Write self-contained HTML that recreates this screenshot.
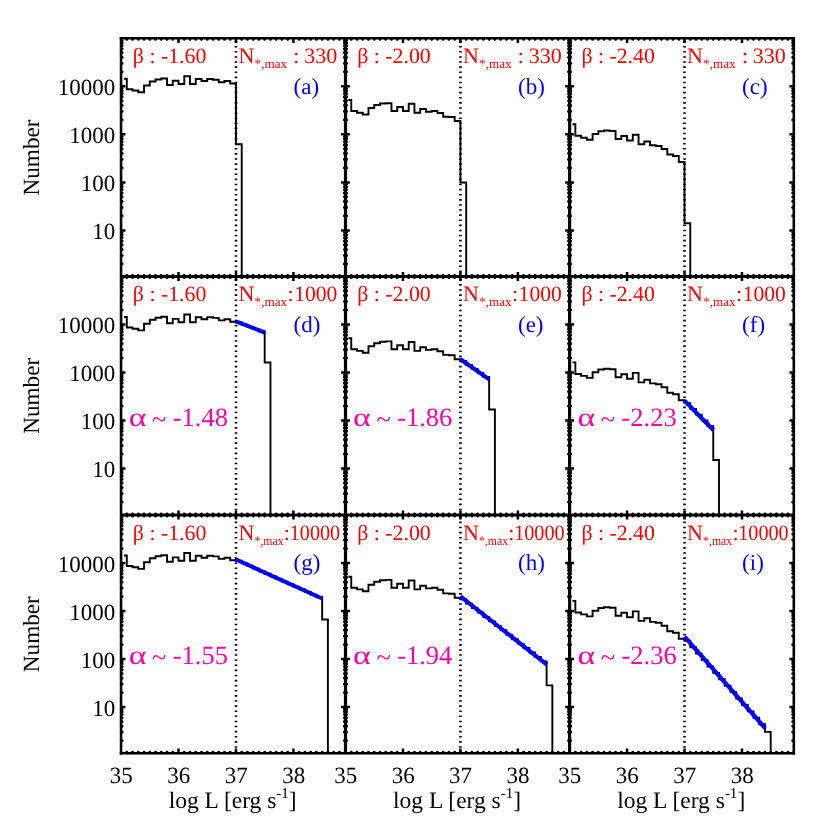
<!DOCTYPE html>
<html><head><meta charset="utf-8"><title>Luminosity functions</title>
<style>html,body{margin:0;padding:0;background:#fff;}body{width:830px;height:830px;position:relative;overflow:hidden;font-family:"Liberation Serif",serif;}</style>
</head><body>
<svg width="830" height="830" viewBox="0 0 830 830" style="position:absolute;left:0;top:0;will-change:transform">
<rect width="830" height="830" fill="#fff"/>
<clipPath id="fc"><rect x="119.85" y="37.1" width="675.15" height="717.3"/></clipPath>
<path clip-path="url(#fc)" d="M126.8 38.3L126.8 39.45 M126.8 275.35L126.8 277.65 M126.8 513.85L126.8 516.15 M126.8 752.05L126.8 753.2 M132.54 38.3L132.54 39.45 M132.54 275.35L132.54 277.65 M132.54 513.85L132.54 516.15 M132.54 752.05L132.54 753.2 M138.29 38.3L138.29 39.45 M138.29 275.35L138.29 277.65 M138.29 513.85L138.29 516.15 M138.29 752.05L138.29 753.2 M144.03 38.3L144.03 39.45 M144.03 275.35L144.03 277.65 M144.03 513.85L144.03 516.15 M144.03 752.05L144.03 753.2 M149.78 38.3L149.78 39.45 M149.78 275.35L149.78 277.65 M149.78 513.85L149.78 516.15 M149.78 752.05L149.78 753.2 M155.53 38.3L155.53 39.45 M155.53 275.35L155.53 277.65 M155.53 513.85L155.53 516.15 M155.53 752.05L155.53 753.2 M161.27 38.3L161.27 39.45 M161.27 275.35L161.27 277.65 M161.27 513.85L161.27 516.15 M161.27 752.05L161.27 753.2 M167.02 38.3L167.02 39.45 M167.02 275.35L167.02 277.65 M167.02 513.85L167.02 516.15 M167.02 752.05L167.02 753.2 M172.76 38.3L172.76 39.45 M172.76 275.35L172.76 277.65 M172.76 513.85L172.76 516.15 M172.76 752.05L172.76 753.2 M184.26 38.3L184.26 39.45 M184.26 275.35L184.26 277.65 M184.26 513.85L184.26 516.15 M184.26 752.05L184.26 753.2 M190 38.3L190 39.45 M190 275.35L190 277.65 M190 513.85L190 516.15 M190 752.05L190 753.2 M195.75 38.3L195.75 39.45 M195.75 275.35L195.75 277.65 M195.75 513.85L195.75 516.15 M195.75 752.05L195.75 753.2 M201.49 38.3L201.49 39.45 M201.49 275.35L201.49 277.65 M201.49 513.85L201.49 516.15 M201.49 752.05L201.49 753.2 M207.24 38.3L207.24 39.45 M207.24 275.35L207.24 277.65 M207.24 513.85L207.24 516.15 M207.24 752.05L207.24 753.2 M212.99 38.3L212.99 39.45 M212.99 275.35L212.99 277.65 M212.99 513.85L212.99 516.15 M212.99 752.05L212.99 753.2 M218.73 38.3L218.73 39.45 M218.73 275.35L218.73 277.65 M218.73 513.85L218.73 516.15 M218.73 752.05L218.73 753.2 M224.48 38.3L224.48 39.45 M224.48 275.35L224.48 277.65 M224.48 513.85L224.48 516.15 M224.48 752.05L224.48 753.2 M230.22 38.3L230.22 39.45 M230.22 275.35L230.22 277.65 M230.22 513.85L230.22 516.15 M230.22 752.05L230.22 753.2 M241.72 38.3L241.72 39.45 M241.72 275.35L241.72 277.65 M241.72 513.85L241.72 516.15 M241.72 752.05L241.72 753.2 M247.46 38.3L247.46 39.45 M247.46 275.35L247.46 277.65 M247.46 513.85L247.46 516.15 M247.46 752.05L247.46 753.2 M253.21 38.3L253.21 39.45 M253.21 275.35L253.21 277.65 M253.21 513.85L253.21 516.15 M253.21 752.05L253.21 753.2 M258.95 38.3L258.95 39.45 M258.95 275.35L258.95 277.65 M258.95 513.85L258.95 516.15 M258.95 752.05L258.95 753.2 M264.7 38.3L264.7 39.45 M264.7 275.35L264.7 277.65 M264.7 513.85L264.7 516.15 M264.7 752.05L264.7 753.2 M270.45 38.3L270.45 39.45 M270.45 275.35L270.45 277.65 M270.45 513.85L270.45 516.15 M270.45 752.05L270.45 753.2 M276.19 38.3L276.19 39.45 M276.19 275.35L276.19 277.65 M276.19 513.85L276.19 516.15 M276.19 752.05L276.19 753.2 M281.94 38.3L281.94 39.45 M281.94 275.35L281.94 277.65 M281.94 513.85L281.94 516.15 M281.94 752.05L281.94 753.2 M287.68 38.3L287.68 39.45 M287.68 275.35L287.68 277.65 M287.68 513.85L287.68 516.15 M287.68 752.05L287.68 753.2 M299.18 38.3L299.18 39.45 M299.18 275.35L299.18 277.65 M299.18 513.85L299.18 516.15 M299.18 752.05L299.18 753.2 M304.92 38.3L304.92 39.45 M304.92 275.35L304.92 277.65 M304.92 513.85L304.92 516.15 M304.92 752.05L304.92 753.2 M310.67 38.3L310.67 39.45 M310.67 275.35L310.67 277.65 M310.67 513.85L310.67 516.15 M310.67 752.05L310.67 753.2 M316.41 38.3L316.41 39.45 M316.41 275.35L316.41 277.65 M316.41 513.85L316.41 516.15 M316.41 752.05L316.41 753.2 M322.16 38.3L322.16 39.45 M322.16 275.35L322.16 277.65 M322.16 513.85L322.16 516.15 M322.16 752.05L322.16 753.2 M327.91 38.3L327.91 39.45 M327.91 275.35L327.91 277.65 M327.91 513.85L327.91 516.15 M327.91 752.05L327.91 753.2 M333.65 38.3L333.65 39.45 M333.65 275.35L333.65 277.65 M333.65 513.85L333.65 516.15 M333.65 752.05L333.65 753.2 M339.4 38.3L339.4 39.45 M339.4 275.35L339.4 277.65 M339.4 513.85L339.4 516.15 M339.4 752.05L339.4 753.2 M345.14 38.3L345.14 39.45 M345.14 275.35L345.14 277.65 M345.14 513.85L345.14 516.15 M345.14 752.05L345.14 753.2 M351.25 38.3L351.25 39.45 M351.25 275.35L351.25 277.65 M351.25 513.85L351.25 516.15 M351.25 752.05L351.25 753.2 M356.99 38.3L356.99 39.45 M356.99 275.35L356.99 277.65 M356.99 513.85L356.99 516.15 M356.99 752.05L356.99 753.2 M362.74 38.3L362.74 39.45 M362.74 275.35L362.74 277.65 M362.74 513.85L362.74 516.15 M362.74 752.05L362.74 753.2 M368.48 38.3L368.48 39.45 M368.48 275.35L368.48 277.65 M368.48 513.85L368.48 516.15 M368.48 752.05L368.48 753.2 M374.23 38.3L374.23 39.45 M374.23 275.35L374.23 277.65 M374.23 513.85L374.23 516.15 M374.23 752.05L374.23 753.2 M379.98 38.3L379.98 39.45 M379.98 275.35L379.98 277.65 M379.98 513.85L379.98 516.15 M379.98 752.05L379.98 753.2 M385.72 38.3L385.72 39.45 M385.72 275.35L385.72 277.65 M385.72 513.85L385.72 516.15 M385.72 752.05L385.72 753.2 M391.47 38.3L391.47 39.45 M391.47 275.35L391.47 277.65 M391.47 513.85L391.47 516.15 M391.47 752.05L391.47 753.2 M397.21 38.3L397.21 39.45 M397.21 275.35L397.21 277.65 M397.21 513.85L397.21 516.15 M397.21 752.05L397.21 753.2 M408.71 38.3L408.71 39.45 M408.71 275.35L408.71 277.65 M408.71 513.85L408.71 516.15 M408.71 752.05L408.71 753.2 M414.45 38.3L414.45 39.45 M414.45 275.35L414.45 277.65 M414.45 513.85L414.45 516.15 M414.45 752.05L414.45 753.2 M420.2 38.3L420.2 39.45 M420.2 275.35L420.2 277.65 M420.2 513.85L420.2 516.15 M420.2 752.05L420.2 753.2 M425.94 38.3L425.94 39.45 M425.94 275.35L425.94 277.65 M425.94 513.85L425.94 516.15 M425.94 752.05L425.94 753.2 M431.69 38.3L431.69 39.45 M431.69 275.35L431.69 277.65 M431.69 513.85L431.69 516.15 M431.69 752.05L431.69 753.2 M437.44 38.3L437.44 39.45 M437.44 275.35L437.44 277.65 M437.44 513.85L437.44 516.15 M437.44 752.05L437.44 753.2 M443.18 38.3L443.18 39.45 M443.18 275.35L443.18 277.65 M443.18 513.85L443.18 516.15 M443.18 752.05L443.18 753.2 M448.93 38.3L448.93 39.45 M448.93 275.35L448.93 277.65 M448.93 513.85L448.93 516.15 M448.93 752.05L448.93 753.2 M454.67 38.3L454.67 39.45 M454.67 275.35L454.67 277.65 M454.67 513.85L454.67 516.15 M454.67 752.05L454.67 753.2 M466.17 38.3L466.17 39.45 M466.17 275.35L466.17 277.65 M466.17 513.85L466.17 516.15 M466.17 752.05L466.17 753.2 M471.91 38.3L471.91 39.45 M471.91 275.35L471.91 277.65 M471.91 513.85L471.91 516.15 M471.91 752.05L471.91 753.2 M477.66 38.3L477.66 39.45 M477.66 275.35L477.66 277.65 M477.66 513.85L477.66 516.15 M477.66 752.05L477.66 753.2 M483.4 38.3L483.4 39.45 M483.4 275.35L483.4 277.65 M483.4 513.85L483.4 516.15 M483.4 752.05L483.4 753.2 M489.15 38.3L489.15 39.45 M489.15 275.35L489.15 277.65 M489.15 513.85L489.15 516.15 M489.15 752.05L489.15 753.2 M494.9 38.3L494.9 39.45 M494.9 275.35L494.9 277.65 M494.9 513.85L494.9 516.15 M494.9 752.05L494.9 753.2 M500.64 38.3L500.64 39.45 M500.64 275.35L500.64 277.65 M500.64 513.85L500.64 516.15 M500.64 752.05L500.64 753.2 M506.39 38.3L506.39 39.45 M506.39 275.35L506.39 277.65 M506.39 513.85L506.39 516.15 M506.39 752.05L506.39 753.2 M512.13 38.3L512.13 39.45 M512.13 275.35L512.13 277.65 M512.13 513.85L512.13 516.15 M512.13 752.05L512.13 753.2 M523.63 38.3L523.63 39.45 M523.63 275.35L523.63 277.65 M523.63 513.85L523.63 516.15 M523.63 752.05L523.63 753.2 M529.37 38.3L529.37 39.45 M529.37 275.35L529.37 277.65 M529.37 513.85L529.37 516.15 M529.37 752.05L529.37 753.2 M535.12 38.3L535.12 39.45 M535.12 275.35L535.12 277.65 M535.12 513.85L535.12 516.15 M535.12 752.05L535.12 753.2 M540.86 38.3L540.86 39.45 M540.86 275.35L540.86 277.65 M540.86 513.85L540.86 516.15 M540.86 752.05L540.86 753.2 M546.61 38.3L546.61 39.45 M546.61 275.35L546.61 277.65 M546.61 513.85L546.61 516.15 M546.61 752.05L546.61 753.2 M552.36 38.3L552.36 39.45 M552.36 275.35L552.36 277.65 M552.36 513.85L552.36 516.15 M552.36 752.05L552.36 753.2 M558.1 38.3L558.1 39.45 M558.1 275.35L558.1 277.65 M558.1 513.85L558.1 516.15 M558.1 752.05L558.1 753.2 M563.85 38.3L563.85 39.45 M563.85 275.35L563.85 277.65 M563.85 513.85L563.85 516.15 M563.85 752.05L563.85 753.2 M569.59 38.3L569.59 39.45 M569.59 275.35L569.59 277.65 M569.59 513.85L569.59 516.15 M569.59 752.05L569.59 753.2 M575.35 38.3L575.35 39.45 M575.35 275.35L575.35 277.65 M575.35 513.85L575.35 516.15 M575.35 752.05L575.35 753.2 M581.09 38.3L581.09 39.45 M581.09 275.35L581.09 277.65 M581.09 513.85L581.09 516.15 M581.09 752.05L581.09 753.2 M586.84 38.3L586.84 39.45 M586.84 275.35L586.84 277.65 M586.84 513.85L586.84 516.15 M586.84 752.05L586.84 753.2 M592.58 38.3L592.58 39.45 M592.58 275.35L592.58 277.65 M592.58 513.85L592.58 516.15 M592.58 752.05L592.58 753.2 M598.33 38.3L598.33 39.45 M598.33 275.35L598.33 277.65 M598.33 513.85L598.33 516.15 M598.33 752.05L598.33 753.2 M604.08 38.3L604.08 39.45 M604.08 275.35L604.08 277.65 M604.08 513.85L604.08 516.15 M604.08 752.05L604.08 753.2 M609.82 38.3L609.82 39.45 M609.82 275.35L609.82 277.65 M609.82 513.85L609.82 516.15 M609.82 752.05L609.82 753.2 M615.57 38.3L615.57 39.45 M615.57 275.35L615.57 277.65 M615.57 513.85L615.57 516.15 M615.57 752.05L615.57 753.2 M621.31 38.3L621.31 39.45 M621.31 275.35L621.31 277.65 M621.31 513.85L621.31 516.15 M621.31 752.05L621.31 753.2 M632.81 38.3L632.81 39.45 M632.81 275.35L632.81 277.65 M632.81 513.85L632.81 516.15 M632.81 752.05L632.81 753.2 M638.55 38.3L638.55 39.45 M638.55 275.35L638.55 277.65 M638.55 513.85L638.55 516.15 M638.55 752.05L638.55 753.2 M644.3 38.3L644.3 39.45 M644.3 275.35L644.3 277.65 M644.3 513.85L644.3 516.15 M644.3 752.05L644.3 753.2 M650.04 38.3L650.04 39.45 M650.04 275.35L650.04 277.65 M650.04 513.85L650.04 516.15 M650.04 752.05L650.04 753.2 M655.79 38.3L655.79 39.45 M655.79 275.35L655.79 277.65 M655.79 513.85L655.79 516.15 M655.79 752.05L655.79 753.2 M661.54 38.3L661.54 39.45 M661.54 275.35L661.54 277.65 M661.54 513.85L661.54 516.15 M661.54 752.05L661.54 753.2 M667.28 38.3L667.28 39.45 M667.28 275.35L667.28 277.65 M667.28 513.85L667.28 516.15 M667.28 752.05L667.28 753.2 M673.03 38.3L673.03 39.45 M673.03 275.35L673.03 277.65 M673.03 513.85L673.03 516.15 M673.03 752.05L673.03 753.2 M678.77 38.3L678.77 39.45 M678.77 275.35L678.77 277.65 M678.77 513.85L678.77 516.15 M678.77 752.05L678.77 753.2 M690.27 38.3L690.27 39.45 M690.27 275.35L690.27 277.65 M690.27 513.85L690.27 516.15 M690.27 752.05L690.27 753.2 M696.01 38.3L696.01 39.45 M696.01 275.35L696.01 277.65 M696.01 513.85L696.01 516.15 M696.01 752.05L696.01 753.2 M701.76 38.3L701.76 39.45 M701.76 275.35L701.76 277.65 M701.76 513.85L701.76 516.15 M701.76 752.05L701.76 753.2 M707.5 38.3L707.5 39.45 M707.5 275.35L707.5 277.65 M707.5 513.85L707.5 516.15 M707.5 752.05L707.5 753.2 M713.25 38.3L713.25 39.45 M713.25 275.35L713.25 277.65 M713.25 513.85L713.25 516.15 M713.25 752.05L713.25 753.2 M719 38.3L719 39.45 M719 275.35L719 277.65 M719 513.85L719 516.15 M719 752.05L719 753.2 M724.74 38.3L724.74 39.45 M724.74 275.35L724.74 277.65 M724.74 513.85L724.74 516.15 M724.74 752.05L724.74 753.2 M730.49 38.3L730.49 39.45 M730.49 275.35L730.49 277.65 M730.49 513.85L730.49 516.15 M730.49 752.05L730.49 753.2 M736.23 38.3L736.23 39.45 M736.23 275.35L736.23 277.65 M736.23 513.85L736.23 516.15 M736.23 752.05L736.23 753.2 M747.73 38.3L747.73 39.45 M747.73 275.35L747.73 277.65 M747.73 513.85L747.73 516.15 M747.73 752.05L747.73 753.2 M753.47 38.3L753.47 39.45 M753.47 275.35L753.47 277.65 M753.47 513.85L753.47 516.15 M753.47 752.05L753.47 753.2 M759.22 38.3L759.22 39.45 M759.22 275.35L759.22 277.65 M759.22 513.85L759.22 516.15 M759.22 752.05L759.22 753.2 M764.96 38.3L764.96 39.45 M764.96 275.35L764.96 277.65 M764.96 513.85L764.96 516.15 M764.96 752.05L764.96 753.2 M770.71 38.3L770.71 39.45 M770.71 275.35L770.71 277.65 M770.71 513.85L770.71 516.15 M770.71 752.05L770.71 753.2 M776.46 38.3L776.46 39.45 M776.46 275.35L776.46 277.65 M776.46 513.85L776.46 516.15 M776.46 752.05L776.46 753.2 M782.2 38.3L782.2 39.45 M782.2 275.35L782.2 277.65 M782.2 513.85L782.2 516.15 M782.2 752.05L782.2 753.2 M787.95 38.3L787.95 39.45 M787.95 275.35L787.95 277.65 M787.95 513.85L787.95 516.15 M787.95 752.05L787.95 753.2 M793.69 38.3L793.69 39.45 M793.69 275.35L793.69 277.65 M793.69 513.85L793.69 516.15 M793.69 752.05L793.69 753.2 M121.05 263.99L122.2 263.99 M344.35 263.99L346.65 263.99 M568.45 263.99L570.75 263.99 M792.65 263.99L793.8 263.99 M121.05 255.53L122.2 255.53 M344.35 255.53L346.65 255.53 M568.45 255.53L570.75 255.53 M792.65 255.53L793.8 255.53 M121.05 249.53L122.2 249.53 M344.35 249.53L346.65 249.53 M568.45 249.53L570.75 249.53 M792.65 249.53L793.8 249.53 M121.05 244.88L122.2 244.88 M344.35 244.88L346.65 244.88 M568.45 244.88L570.75 244.88 M792.65 244.88L793.8 244.88 M121.05 241.08L122.2 241.08 M344.35 241.08L346.65 241.08 M568.45 241.08L570.75 241.08 M792.65 241.08L793.8 241.08 M121.05 237.86L122.2 237.86 M344.35 237.86L346.65 237.86 M568.45 237.86L570.75 237.86 M792.65 237.86L793.8 237.86 M121.05 235.07L122.2 235.07 M344.35 235.07L346.65 235.07 M568.45 235.07L570.75 235.07 M792.65 235.07L793.8 235.07 M121.05 232.62L122.2 232.62 M344.35 232.62L346.65 232.62 M568.45 232.62L570.75 232.62 M792.65 232.62L793.8 232.62 M121.05 215.96L122.2 215.96 M344.35 215.96L346.65 215.96 M568.45 215.96L570.75 215.96 M792.65 215.96L793.8 215.96 M121.05 207.5L122.2 207.5 M344.35 207.5L346.65 207.5 M568.45 207.5L570.75 207.5 M792.65 207.5L793.8 207.5 M121.05 201.5L122.2 201.5 M344.35 201.5L346.65 201.5 M568.45 201.5L570.75 201.5 M792.65 201.5L793.8 201.5 M121.05 196.85L122.2 196.85 M344.35 196.85L346.65 196.85 M568.45 196.85L570.75 196.85 M792.65 196.85L793.8 196.85 M121.05 193.05L122.2 193.05 M344.35 193.05L346.65 193.05 M568.45 193.05L570.75 193.05 M792.65 193.05L793.8 193.05 M121.05 189.83L122.2 189.83 M344.35 189.83L346.65 189.83 M568.45 189.83L570.75 189.83 M792.65 189.83L793.8 189.83 M121.05 187.04L122.2 187.04 M344.35 187.04L346.65 187.04 M568.45 187.04L570.75 187.04 M792.65 187.04L793.8 187.04 M121.05 184.59L122.2 184.59 M344.35 184.59L346.65 184.59 M568.45 184.59L570.75 184.59 M792.65 184.59L793.8 184.59 M121.05 167.93L122.2 167.93 M344.35 167.93L346.65 167.93 M568.45 167.93L570.75 167.93 M792.65 167.93L793.8 167.93 M121.05 159.47L122.2 159.47 M344.35 159.47L346.65 159.47 M568.45 159.47L570.75 159.47 M792.65 159.47L793.8 159.47 M121.05 153.47L122.2 153.47 M344.35 153.47L346.65 153.47 M568.45 153.47L570.75 153.47 M792.65 153.47L793.8 153.47 M121.05 148.82L122.2 148.82 M344.35 148.82L346.65 148.82 M568.45 148.82L570.75 148.82 M792.65 148.82L793.8 148.82 M121.05 145.02L122.2 145.02 M344.35 145.02L346.65 145.02 M568.45 145.02L570.75 145.02 M792.65 145.02L793.8 145.02 M121.05 141.8L122.2 141.8 M344.35 141.8L346.65 141.8 M568.45 141.8L570.75 141.8 M792.65 141.8L793.8 141.8 M121.05 139.01L122.2 139.01 M344.35 139.01L346.65 139.01 M568.45 139.01L570.75 139.01 M792.65 139.01L793.8 139.01 M121.05 136.56L122.2 136.56 M344.35 136.56L346.65 136.56 M568.45 136.56L570.75 136.56 M792.65 136.56L793.8 136.56 M121.05 119.9L122.2 119.9 M344.35 119.9L346.65 119.9 M568.45 119.9L570.75 119.9 M792.65 119.9L793.8 119.9 M121.05 111.44L122.2 111.44 M344.35 111.44L346.65 111.44 M568.45 111.44L570.75 111.44 M792.65 111.44L793.8 111.44 M121.05 105.44L122.2 105.44 M344.35 105.44L346.65 105.44 M568.45 105.44L570.75 105.44 M792.65 105.44L793.8 105.44 M121.05 100.79L122.2 100.79 M344.35 100.79L346.65 100.79 M568.45 100.79L570.75 100.79 M792.65 100.79L793.8 100.79 M121.05 96.99L122.2 96.99 M344.35 96.99L346.65 96.99 M568.45 96.99L570.75 96.99 M792.65 96.99L793.8 96.99 M121.05 93.77L122.2 93.77 M344.35 93.77L346.65 93.77 M568.45 93.77L570.75 93.77 M792.65 93.77L793.8 93.77 M121.05 90.98L122.2 90.98 M344.35 90.98L346.65 90.98 M568.45 90.98L570.75 90.98 M792.65 90.98L793.8 90.98 M121.05 88.53L122.2 88.53 M344.35 88.53L346.65 88.53 M568.45 88.53L570.75 88.53 M792.65 88.53L793.8 88.53 M121.05 71.87L122.2 71.87 M344.35 71.87L346.65 71.87 M568.45 71.87L570.75 71.87 M792.65 71.87L793.8 71.87 M121.05 63.41L122.2 63.41 M344.35 63.41L346.65 63.41 M568.45 63.41L570.75 63.41 M792.65 63.41L793.8 63.41 M121.05 57.41L122.2 57.41 M344.35 57.41L346.65 57.41 M568.45 57.41L570.75 57.41 M792.65 57.41L793.8 57.41 M121.05 52.76L122.2 52.76 M344.35 52.76L346.65 52.76 M568.45 52.76L570.75 52.76 M792.65 52.76L793.8 52.76 M121.05 48.96L122.2 48.96 M344.35 48.96L346.65 48.96 M568.45 48.96L570.75 48.96 M792.65 48.96L793.8 48.96 M121.05 45.74L122.2 45.74 M344.35 45.74L346.65 45.74 M568.45 45.74L570.75 45.74 M792.65 45.74L793.8 45.74 M121.05 42.95L122.2 42.95 M344.35 42.95L346.65 42.95 M568.45 42.95L570.75 42.95 M792.65 42.95L793.8 42.95 M121.05 40.5L122.2 40.5 M344.35 40.5L346.65 40.5 M568.45 40.5L570.75 40.5 M792.65 40.5L793.8 40.5 M121.05 502.19L122.2 502.19 M344.35 502.19L346.65 502.19 M568.45 502.19L570.75 502.19 M792.65 502.19L793.8 502.19 M121.05 493.73L122.2 493.73 M344.35 493.73L346.65 493.73 M568.45 493.73L570.75 493.73 M792.65 493.73L793.8 493.73 M121.05 487.73L122.2 487.73 M344.35 487.73L346.65 487.73 M568.45 487.73L570.75 487.73 M792.65 487.73L793.8 487.73 M121.05 483.08L122.2 483.08 M344.35 483.08L346.65 483.08 M568.45 483.08L570.75 483.08 M792.65 483.08L793.8 483.08 M121.05 479.28L122.2 479.28 M344.35 479.28L346.65 479.28 M568.45 479.28L570.75 479.28 M792.65 479.28L793.8 479.28 M121.05 476.06L122.2 476.06 M344.35 476.06L346.65 476.06 M568.45 476.06L570.75 476.06 M792.65 476.06L793.8 476.06 M121.05 473.27L122.2 473.27 M344.35 473.27L346.65 473.27 M568.45 473.27L570.75 473.27 M792.65 473.27L793.8 473.27 M121.05 470.82L122.2 470.82 M344.35 470.82L346.65 470.82 M568.45 470.82L570.75 470.82 M792.65 470.82L793.8 470.82 M121.05 454.16L122.2 454.16 M344.35 454.16L346.65 454.16 M568.45 454.16L570.75 454.16 M792.65 454.16L793.8 454.16 M121.05 445.7L122.2 445.7 M344.35 445.7L346.65 445.7 M568.45 445.7L570.75 445.7 M792.65 445.7L793.8 445.7 M121.05 439.7L122.2 439.7 M344.35 439.7L346.65 439.7 M568.45 439.7L570.75 439.7 M792.65 439.7L793.8 439.7 M121.05 435.05L122.2 435.05 M344.35 435.05L346.65 435.05 M568.45 435.05L570.75 435.05 M792.65 435.05L793.8 435.05 M121.05 431.25L122.2 431.25 M344.35 431.25L346.65 431.25 M568.45 431.25L570.75 431.25 M792.65 431.25L793.8 431.25 M121.05 428.03L122.2 428.03 M344.35 428.03L346.65 428.03 M568.45 428.03L570.75 428.03 M792.65 428.03L793.8 428.03 M121.05 425.24L122.2 425.24 M344.35 425.24L346.65 425.24 M568.45 425.24L570.75 425.24 M792.65 425.24L793.8 425.24 M121.05 422.79L122.2 422.79 M344.35 422.79L346.65 422.79 M568.45 422.79L570.75 422.79 M792.65 422.79L793.8 422.79 M121.05 406.13L122.2 406.13 M344.35 406.13L346.65 406.13 M568.45 406.13L570.75 406.13 M792.65 406.13L793.8 406.13 M121.05 397.67L122.2 397.67 M344.35 397.67L346.65 397.67 M568.45 397.67L570.75 397.67 M792.65 397.67L793.8 397.67 M121.05 391.67L122.2 391.67 M344.35 391.67L346.65 391.67 M568.45 391.67L570.75 391.67 M792.65 391.67L793.8 391.67 M121.05 387.02L122.2 387.02 M344.35 387.02L346.65 387.02 M568.45 387.02L570.75 387.02 M792.65 387.02L793.8 387.02 M121.05 383.22L122.2 383.22 M344.35 383.22L346.65 383.22 M568.45 383.22L570.75 383.22 M792.65 383.22L793.8 383.22 M121.05 380L122.2 380 M344.35 380L346.65 380 M568.45 380L570.75 380 M792.65 380L793.8 380 M121.05 377.21L122.2 377.21 M344.35 377.21L346.65 377.21 M568.45 377.21L570.75 377.21 M792.65 377.21L793.8 377.21 M121.05 374.76L122.2 374.76 M344.35 374.76L346.65 374.76 M568.45 374.76L570.75 374.76 M792.65 374.76L793.8 374.76 M121.05 358.1L122.2 358.1 M344.35 358.1L346.65 358.1 M568.45 358.1L570.75 358.1 M792.65 358.1L793.8 358.1 M121.05 349.64L122.2 349.64 M344.35 349.64L346.65 349.64 M568.45 349.64L570.75 349.64 M792.65 349.64L793.8 349.64 M121.05 343.64L122.2 343.64 M344.35 343.64L346.65 343.64 M568.45 343.64L570.75 343.64 M792.65 343.64L793.8 343.64 M121.05 338.99L122.2 338.99 M344.35 338.99L346.65 338.99 M568.45 338.99L570.75 338.99 M792.65 338.99L793.8 338.99 M121.05 335.19L122.2 335.19 M344.35 335.19L346.65 335.19 M568.45 335.19L570.75 335.19 M792.65 335.19L793.8 335.19 M121.05 331.97L122.2 331.97 M344.35 331.97L346.65 331.97 M568.45 331.97L570.75 331.97 M792.65 331.97L793.8 331.97 M121.05 329.18L122.2 329.18 M344.35 329.18L346.65 329.18 M568.45 329.18L570.75 329.18 M792.65 329.18L793.8 329.18 M121.05 326.73L122.2 326.73 M344.35 326.73L346.65 326.73 M568.45 326.73L570.75 326.73 M792.65 326.73L793.8 326.73 M121.05 310.07L122.2 310.07 M344.35 310.07L346.65 310.07 M568.45 310.07L570.75 310.07 M792.65 310.07L793.8 310.07 M121.05 301.61L122.2 301.61 M344.35 301.61L346.65 301.61 M568.45 301.61L570.75 301.61 M792.65 301.61L793.8 301.61 M121.05 295.61L122.2 295.61 M344.35 295.61L346.65 295.61 M568.45 295.61L570.75 295.61 M792.65 295.61L793.8 295.61 M121.05 290.96L122.2 290.96 M344.35 290.96L346.65 290.96 M568.45 290.96L570.75 290.96 M792.65 290.96L793.8 290.96 M121.05 287.16L122.2 287.16 M344.35 287.16L346.65 287.16 M568.45 287.16L570.75 287.16 M792.65 287.16L793.8 287.16 M121.05 283.94L122.2 283.94 M344.35 283.94L346.65 283.94 M568.45 283.94L570.75 283.94 M792.65 283.94L793.8 283.94 M121.05 281.15L122.2 281.15 M344.35 281.15L346.65 281.15 M568.45 281.15L570.75 281.15 M792.65 281.15L793.8 281.15 M121.05 278.7L122.2 278.7 M344.35 278.7L346.65 278.7 M568.45 278.7L570.75 278.7 M792.65 278.7L793.8 278.7 M121.05 740.69L122.2 740.69 M344.35 740.69L346.65 740.69 M568.45 740.69L570.75 740.69 M792.65 740.69L793.8 740.69 M121.05 732.23L122.2 732.23 M344.35 732.23L346.65 732.23 M568.45 732.23L570.75 732.23 M792.65 732.23L793.8 732.23 M121.05 726.23L122.2 726.23 M344.35 726.23L346.65 726.23 M568.45 726.23L570.75 726.23 M792.65 726.23L793.8 726.23 M121.05 721.58L122.2 721.58 M344.35 721.58L346.65 721.58 M568.45 721.58L570.75 721.58 M792.65 721.58L793.8 721.58 M121.05 717.78L122.2 717.78 M344.35 717.78L346.65 717.78 M568.45 717.78L570.75 717.78 M792.65 717.78L793.8 717.78 M121.05 714.56L122.2 714.56 M344.35 714.56L346.65 714.56 M568.45 714.56L570.75 714.56 M792.65 714.56L793.8 714.56 M121.05 711.77L122.2 711.77 M344.35 711.77L346.65 711.77 M568.45 711.77L570.75 711.77 M792.65 711.77L793.8 711.77 M121.05 709.32L122.2 709.32 M344.35 709.32L346.65 709.32 M568.45 709.32L570.75 709.32 M792.65 709.32L793.8 709.32 M121.05 692.66L122.2 692.66 M344.35 692.66L346.65 692.66 M568.45 692.66L570.75 692.66 M792.65 692.66L793.8 692.66 M121.05 684.2L122.2 684.2 M344.35 684.2L346.65 684.2 M568.45 684.2L570.75 684.2 M792.65 684.2L793.8 684.2 M121.05 678.2L122.2 678.2 M344.35 678.2L346.65 678.2 M568.45 678.2L570.75 678.2 M792.65 678.2L793.8 678.2 M121.05 673.55L122.2 673.55 M344.35 673.55L346.65 673.55 M568.45 673.55L570.75 673.55 M792.65 673.55L793.8 673.55 M121.05 669.75L122.2 669.75 M344.35 669.75L346.65 669.75 M568.45 669.75L570.75 669.75 M792.65 669.75L793.8 669.75 M121.05 666.53L122.2 666.53 M344.35 666.53L346.65 666.53 M568.45 666.53L570.75 666.53 M792.65 666.53L793.8 666.53 M121.05 663.74L122.2 663.74 M344.35 663.74L346.65 663.74 M568.45 663.74L570.75 663.74 M792.65 663.74L793.8 663.74 M121.05 661.29L122.2 661.29 M344.35 661.29L346.65 661.29 M568.45 661.29L570.75 661.29 M792.65 661.29L793.8 661.29 M121.05 644.63L122.2 644.63 M344.35 644.63L346.65 644.63 M568.45 644.63L570.75 644.63 M792.65 644.63L793.8 644.63 M121.05 636.17L122.2 636.17 M344.35 636.17L346.65 636.17 M568.45 636.17L570.75 636.17 M792.65 636.17L793.8 636.17 M121.05 630.17L122.2 630.17 M344.35 630.17L346.65 630.17 M568.45 630.17L570.75 630.17 M792.65 630.17L793.8 630.17 M121.05 625.52L122.2 625.52 M344.35 625.52L346.65 625.52 M568.45 625.52L570.75 625.52 M792.65 625.52L793.8 625.52 M121.05 621.72L122.2 621.72 M344.35 621.72L346.65 621.72 M568.45 621.72L570.75 621.72 M792.65 621.72L793.8 621.72 M121.05 618.5L122.2 618.5 M344.35 618.5L346.65 618.5 M568.45 618.5L570.75 618.5 M792.65 618.5L793.8 618.5 M121.05 615.71L122.2 615.71 M344.35 615.71L346.65 615.71 M568.45 615.71L570.75 615.71 M792.65 615.71L793.8 615.71 M121.05 613.26L122.2 613.26 M344.35 613.26L346.65 613.26 M568.45 613.26L570.75 613.26 M792.65 613.26L793.8 613.26 M121.05 596.6L122.2 596.6 M344.35 596.6L346.65 596.6 M568.45 596.6L570.75 596.6 M792.65 596.6L793.8 596.6 M121.05 588.14L122.2 588.14 M344.35 588.14L346.65 588.14 M568.45 588.14L570.75 588.14 M792.65 588.14L793.8 588.14 M121.05 582.14L122.2 582.14 M344.35 582.14L346.65 582.14 M568.45 582.14L570.75 582.14 M792.65 582.14L793.8 582.14 M121.05 577.49L122.2 577.49 M344.35 577.49L346.65 577.49 M568.45 577.49L570.75 577.49 M792.65 577.49L793.8 577.49 M121.05 573.69L122.2 573.69 M344.35 573.69L346.65 573.69 M568.45 573.69L570.75 573.69 M792.65 573.69L793.8 573.69 M121.05 570.47L122.2 570.47 M344.35 570.47L346.65 570.47 M568.45 570.47L570.75 570.47 M792.65 570.47L793.8 570.47 M121.05 567.68L122.2 567.68 M344.35 567.68L346.65 567.68 M568.45 567.68L570.75 567.68 M792.65 567.68L793.8 567.68 M121.05 565.23L122.2 565.23 M344.35 565.23L346.65 565.23 M568.45 565.23L570.75 565.23 M792.65 565.23L793.8 565.23 M121.05 548.57L122.2 548.57 M344.35 548.57L346.65 548.57 M568.45 548.57L570.75 548.57 M792.65 548.57L793.8 548.57 M121.05 540.11L122.2 540.11 M344.35 540.11L346.65 540.11 M568.45 540.11L570.75 540.11 M792.65 540.11L793.8 540.11 M121.05 534.11L122.2 534.11 M344.35 534.11L346.65 534.11 M568.45 534.11L570.75 534.11 M792.65 534.11L793.8 534.11 M121.05 529.46L122.2 529.46 M344.35 529.46L346.65 529.46 M568.45 529.46L570.75 529.46 M792.65 529.46L793.8 529.46 M121.05 525.66L122.2 525.66 M344.35 525.66L346.65 525.66 M568.45 525.66L570.75 525.66 M792.65 525.66L793.8 525.66 M121.05 522.44L122.2 522.44 M344.35 522.44L346.65 522.44 M568.45 522.44L570.75 522.44 M792.65 522.44L793.8 522.44 M121.05 519.65L122.2 519.65 M344.35 519.65L346.65 519.65 M568.45 519.65L570.75 519.65 M792.65 519.65L793.8 519.65 M121.05 517.2L122.2 517.2 M344.35 517.2L346.65 517.2 M568.45 517.2L570.75 517.2 M792.65 517.2L793.8 517.2" stroke="#000" stroke-width="2.8" fill="none" stroke-linecap="round"/>
<path d="M178.51 38.3L178.51 42.9 M178.51 271.9L178.51 281.1 M178.51 510.4L178.51 519.6 M178.51 748.6L178.51 753.2 M235.97 38.3L235.97 42.9 M235.97 271.9L235.97 281.1 M235.97 510.4L235.97 519.6 M235.97 748.6L235.97 753.2 M293.43 38.3L293.43 42.9 M293.43 271.9L293.43 281.1 M293.43 510.4L293.43 519.6 M293.43 748.6L293.43 753.2 M402.96 38.3L402.96 42.9 M402.96 271.9L402.96 281.1 M402.96 510.4L402.96 519.6 M402.96 748.6L402.96 753.2 M460.42 38.3L460.42 42.9 M460.42 271.9L460.42 281.1 M460.42 510.4L460.42 519.6 M460.42 748.6L460.42 753.2 M517.88 38.3L517.88 42.9 M517.88 271.9L517.88 281.1 M517.88 510.4L517.88 519.6 M517.88 748.6L517.88 753.2 M627.06 38.3L627.06 42.9 M627.06 271.9L627.06 281.1 M627.06 510.4L627.06 519.6 M627.06 748.6L627.06 753.2 M684.52 38.3L684.52 42.9 M684.52 271.9L684.52 281.1 M684.52 510.4L684.52 519.6 M684.52 748.6L684.52 753.2 M741.98 38.3L741.98 42.9 M741.98 271.9L741.98 281.1 M741.98 510.4L741.98 519.6 M741.98 748.6L741.98 753.2 M121.05 230.42L125.45 230.42 M341.1 230.42L349.9 230.42 M565.2 230.42L574 230.42 M789.4 230.42L793.8 230.42 M121.05 182.39L125.45 182.39 M341.1 182.39L349.9 182.39 M565.2 182.39L574 182.39 M789.4 182.39L793.8 182.39 M121.05 134.36L125.45 134.36 M341.1 134.36L349.9 134.36 M565.2 134.36L574 134.36 M789.4 134.36L793.8 134.36 M121.05 86.33L125.45 86.33 M341.1 86.33L349.9 86.33 M565.2 86.33L574 86.33 M789.4 86.33L793.8 86.33 M121.05 468.62L125.45 468.62 M341.1 468.62L349.9 468.62 M565.2 468.62L574 468.62 M789.4 468.62L793.8 468.62 M121.05 420.59L125.45 420.59 M341.1 420.59L349.9 420.59 M565.2 420.59L574 420.59 M789.4 420.59L793.8 420.59 M121.05 372.56L125.45 372.56 M341.1 372.56L349.9 372.56 M565.2 372.56L574 372.56 M789.4 372.56L793.8 372.56 M121.05 324.53L125.45 324.53 M341.1 324.53L349.9 324.53 M565.2 324.53L574 324.53 M789.4 324.53L793.8 324.53 M121.05 707.12L125.45 707.12 M341.1 707.12L349.9 707.12 M565.2 707.12L574 707.12 M789.4 707.12L793.8 707.12 M121.05 659.09L125.45 659.09 M341.1 659.09L349.9 659.09 M565.2 659.09L574 659.09 M789.4 659.09L793.8 659.09 M121.05 611.06L125.45 611.06 M341.1 611.06L349.9 611.06 M565.2 611.06L574 611.06 M789.4 611.06L793.8 611.06 M121.05 563.03L125.45 563.03 M341.1 563.03L349.9 563.03 M565.2 563.03L574 563.03 M789.4 563.03L793.8 563.03" stroke="#000" stroke-width="2.5" fill="none" stroke-linecap="butt"/>
<line x1="235.97" y1="276.5" x2="235.97" y2="38.3" stroke="#000" stroke-width="2.6" stroke-dasharray="1.6 3.504" stroke-dashoffset="0.7"/>
<path d="M123.92 78.8 L126.8 78.8 L126.8 89.3 L132.54 89.3 L132.54 90.5 L138.29 90.5 L138.29 92.2 L144.03 92.2 L144.03 85.5 L149.78 85.5 L149.78 81.5 L155.53 81.5 L155.53 79.5 L161.27 79.5 L161.27 78.5 L167.02 78.5 L167.02 85 L172.76 85 L172.76 80.7 L178.51 80.7 L178.51 84 L184.26 84 L184.26 76.3 L190 76.3 L190 84 L195.75 84 L195.75 79 L201.49 79 L201.49 81 L207.24 81 L207.24 79 L212.99 79 L212.99 79.7 L218.73 79.7 L218.73 82.2 L224.48 82.2 L224.48 81 L230.22 81 L230.22 83.5 L235.97 83.5 L235.97 144.3 L241.72 144.3 L241.72 276.5" stroke="#000" stroke-width="1.9" fill="none" stroke-linejoin="miter" stroke-linecap="butt"/>
<line x1="460.42" y1="276.5" x2="460.42" y2="38.3" stroke="#000" stroke-width="2.6" stroke-dasharray="1.6 3.504" stroke-dashoffset="0.7"/>
<path d="M348.37 100 L351.25 100 L351.25 111 L356.99 111 L356.99 112.7 L362.74 112.7 L362.74 114.5 L368.48 114.5 L368.48 108 L374.23 108 L374.23 105 L379.98 105 L379.98 103.5 L385.72 103.5 L385.72 103.2 L391.47 103.2 L391.47 111 L397.21 111 L397.21 107 L402.96 107 L402.96 111 L408.71 111 L408.71 103.8 L414.45 103.8 L414.45 112.7 L420.2 112.7 L420.2 109 L425.94 109 L425.94 111.7 L431.69 111.7 L431.69 111 L437.44 111 L437.44 113 L443.18 113 L443.18 116.7 L448.93 116.7 L448.93 117 L454.67 117 L454.67 121 L460.42 121 L460.42 182.5 L466.17 182.5 L466.17 276.5" stroke="#000" stroke-width="1.9" fill="none" stroke-linejoin="miter" stroke-linecap="butt"/>
<line x1="684.52" y1="276.5" x2="684.52" y2="38.3" stroke="#000" stroke-width="2.6" stroke-dasharray="1.6 3.504" stroke-dashoffset="0.7"/>
<path d="M572.47 124.2 L575.35 124.2 L575.35 135.8 L581.09 135.8 L581.09 137.7 L586.84 137.7 L586.84 139.7 L592.58 139.7 L592.58 134 L598.33 134 L598.33 131.3 L604.08 131.3 L604.08 130.5 L609.82 130.5 L609.82 131 L615.57 131 L615.57 139 L621.31 139 L621.31 136 L627.06 136 L627.06 140.5 L632.81 140.5 L632.81 134.7 L638.55 134.7 L638.55 144.2 L644.3 144.2 L644.3 141.5 L650.04 141.5 L650.04 145.2 L655.79 145.2 L655.79 146 L661.54 146 L661.54 149 L667.28 149 L667.28 154.5 L673.03 154.5 L673.03 156 L678.77 156 L678.77 162 L684.52 162 L684.52 223.2 L690.27 223.2 L690.27 276.5" stroke="#000" stroke-width="1.9" fill="none" stroke-linejoin="miter" stroke-linecap="butt"/>
<line x1="235.97" y1="515" x2="235.97" y2="276.5" stroke="#000" stroke-width="2.6" stroke-dasharray="1.6 3.504" stroke-dashoffset="0.4"/>
<path d="M123.92 317 L126.8 317 L126.8 327.5 L132.54 327.5 L132.54 328.7 L138.29 328.7 L138.29 330.4 L144.03 330.4 L144.03 323.7 L149.78 323.7 L149.78 319.7 L155.53 319.7 L155.53 317.7 L161.27 317.7 L161.27 316.7 L167.02 316.7 L167.02 323.2 L172.76 323.2 L172.76 318.9 L178.51 318.9 L178.51 322.2 L184.26 322.2 L184.26 314.5 L190 314.5 L190 322.2 L195.75 322.2 L195.75 317.2 L201.49 317.2 L201.49 319.2 L207.24 319.2 L207.24 317.2 L212.99 317.2 L212.99 317.9 L218.73 317.9 L218.73 320.4 L224.48 320.4 L224.48 319.2 L230.22 319.2 L230.22 321.7 L235.97 321.7 L235.97 322.51 L241.72 322.51 L241.72 324.73 L247.46 324.73 L247.46 326.95 L253.21 326.95 L253.21 329.17 L258.95 329.17 L258.95 331.39 L264.7 331.39 L264.7 362.5 L270.45 362.5 L270.45 515" stroke="#000" stroke-width="1.9" fill="none" stroke-linejoin="miter" stroke-linecap="butt"/>
<line x1="235.97" y1="321.4" x2="264.7" y2="332.5" stroke="#0000ff" stroke-width="4.1" stroke-linecap="butt"/>
<line x1="460.42" y1="515" x2="460.42" y2="276.5" stroke="#000" stroke-width="2.6" stroke-dasharray="1.6 3.504" stroke-dashoffset="0.4"/>
<path d="M348.37 338.2 L351.25 338.2 L351.25 349.2 L356.99 349.2 L356.99 350.9 L362.74 350.9 L362.74 352.7 L368.48 352.7 L368.48 346.2 L374.23 346.2 L374.23 343.2 L379.98 343.2 L379.98 341.7 L385.72 341.7 L385.72 341.4 L391.47 341.4 L391.47 349.2 L397.21 349.2 L397.21 345.2 L402.96 345.2 L402.96 349.2 L408.71 349.2 L408.71 342 L414.45 342 L414.45 350.9 L420.2 350.9 L420.2 347.2 L425.94 347.2 L425.94 349.9 L431.69 349.9 L431.69 349.2 L437.44 349.2 L437.44 351.2 L443.18 351.2 L443.18 354.9 L448.93 354.9 L448.93 355.2 L454.67 355.2 L454.67 359.2 L460.42 359.2 L460.42 360.91 L466.17 360.91 L466.17 364.93 L471.91 364.93 L471.91 368.95 L477.66 368.95 L477.66 372.97 L483.4 372.97 L483.4 376.99 L489.15 376.99 L489.15 409.5 L494.9 409.5 L494.9 515" stroke="#000" stroke-width="1.9" fill="none" stroke-linejoin="miter" stroke-linecap="butt"/>
<line x1="460.42" y1="359.3" x2="489.15" y2="379.4" stroke="#0000ff" stroke-width="4.1" stroke-linecap="butt"/>
<line x1="684.52" y1="515" x2="684.52" y2="276.5" stroke="#000" stroke-width="2.6" stroke-dasharray="1.6 3.504" stroke-dashoffset="0.4"/>
<path d="M572.47 362.4 L575.35 362.4 L575.35 374 L581.09 374 L581.09 375.9 L586.84 375.9 L586.84 377.9 L592.58 377.9 L592.58 372.2 L598.33 372.2 L598.33 369.5 L604.08 369.5 L604.08 368.7 L609.82 368.7 L609.82 369.2 L615.57 369.2 L615.57 377.2 L621.31 377.2 L621.31 374.2 L627.06 374.2 L627.06 378.7 L632.81 378.7 L632.81 372.9 L638.55 372.9 L638.55 382.4 L644.3 382.4 L644.3 379.7 L650.04 379.7 L650.04 383.4 L655.79 383.4 L655.79 384.2 L661.54 384.2 L661.54 387.2 L667.28 387.2 L667.28 392.7 L673.03 392.7 L673.03 394.2 L678.77 394.2 L678.77 400.2 L684.52 400.2 L684.52 403.17 L690.27 403.17 L690.27 408.91 L696.01 408.91 L696.01 414.65 L701.76 414.65 L701.76 420.39 L707.5 420.39 L707.5 426.13 L713.25 426.13 L713.25 460 L719 460 L719 515" stroke="#000" stroke-width="1.9" fill="none" stroke-linejoin="miter" stroke-linecap="butt"/>
<line x1="684.52" y1="400.6" x2="713.45" y2="430.2" stroke="#0000ff" stroke-width="4.1" stroke-linecap="butt"/>
<line x1="235.97" y1="753.2" x2="235.97" y2="515" stroke="#000" stroke-width="2.6" stroke-dasharray="1.6 3.504" stroke-dashoffset="-0.35"/>
<path d="M123.92 555.5 L126.8 555.5 L126.8 566 L132.54 566 L132.54 567.2 L138.29 567.2 L138.29 568.9 L144.03 568.9 L144.03 562.2 L149.78 562.2 L149.78 558.2 L155.53 558.2 L155.53 556.2 L161.27 556.2 L161.27 555.2 L167.02 555.2 L167.02 561.7 L172.76 561.7 L172.76 557.4 L178.51 557.4 L178.51 560.7 L184.26 560.7 L184.26 553 L190 553 L190 560.7 L195.75 560.7 L195.75 555.7 L201.49 555.7 L201.49 557.7 L207.24 557.7 L207.24 555.7 L212.99 555.7 L212.99 556.4 L218.73 556.4 L218.73 558.9 L224.48 558.9 L224.48 557.7 L230.22 557.7 L230.22 560.2 L235.97 560.2 L235.97 560.8 L241.72 560.8 L241.72 563.4 L247.46 563.4 L247.46 566 L253.21 566 L253.21 568.6 L258.95 568.6 L258.95 571.2 L264.7 571.2 L264.7 573.8 L270.45 573.8 L270.45 576.4 L276.19 576.4 L276.19 579 L281.94 579 L281.94 581.6 L287.68 581.6 L287.68 584.2 L293.43 584.2 L293.43 586.8 L299.18 586.8 L299.18 589.4 L304.92 589.4 L304.92 592 L310.67 592 L310.67 594.6 L316.41 594.6 L316.41 597.2 L322.16 597.2 L322.16 619.5 L327.91 619.5 L327.91 753.2" stroke="#000" stroke-width="1.9" fill="none" stroke-linejoin="miter" stroke-linecap="butt"/>
<line x1="235.97" y1="559.5" x2="322.16" y2="598.5" stroke="#0000ff" stroke-width="4.1" stroke-linecap="butt"/>
<line x1="460.42" y1="753.2" x2="460.42" y2="515" stroke="#000" stroke-width="2.6" stroke-dasharray="1.6 3.504" stroke-dashoffset="-0.35"/>
<path d="M348.37 576.7 L351.25 576.7 L351.25 587.7 L356.99 587.7 L356.99 589.4 L362.74 589.4 L362.74 591.2 L368.48 591.2 L368.48 584.7 L374.23 584.7 L374.23 581.7 L379.98 581.7 L379.98 580.2 L385.72 580.2 L385.72 579.9 L391.47 579.9 L391.47 587.7 L397.21 587.7 L397.21 583.7 L402.96 583.7 L402.96 587.7 L408.71 587.7 L408.71 580.5 L414.45 580.5 L414.45 589.4 L420.2 589.4 L420.2 585.7 L425.94 585.7 L425.94 588.4 L431.69 588.4 L431.69 587.7 L437.44 587.7 L437.44 589.7 L443.18 589.7 L443.18 593.4 L448.93 593.4 L448.93 593.7 L454.67 593.7 L454.67 597.7 L460.42 597.7 L460.42 599.22 L466.17 599.22 L466.17 603.66 L471.91 603.66 L471.91 608.1 L477.66 608.1 L477.66 612.54 L483.4 612.54 L483.4 616.98 L489.15 616.98 L489.15 621.42 L494.9 621.42 L494.9 625.86 L500.64 625.86 L500.64 630.3 L506.39 630.3 L506.39 634.74 L512.13 634.74 L512.13 639.18 L517.88 639.18 L517.88 643.62 L523.63 643.62 L523.63 648.06 L529.37 648.06 L529.37 652.5 L535.12 652.5 L535.12 656.94 L540.86 656.94 L540.86 661.38 L546.61 661.38 L546.61 685.4 L552.36 685.4 L552.36 753.2" stroke="#000" stroke-width="1.9" fill="none" stroke-linejoin="miter" stroke-linecap="butt"/>
<line x1="460.42" y1="596.3" x2="546.81" y2="664.6" stroke="#0000ff" stroke-width="4.1" stroke-linecap="butt"/>
<line x1="684.52" y1="753.2" x2="684.52" y2="515" stroke="#000" stroke-width="2.6" stroke-dasharray="1.6 3.504" stroke-dashoffset="-0.35"/>
<path d="M572.47 600.9 L575.35 600.9 L575.35 612.5 L581.09 612.5 L581.09 614.4 L586.84 614.4 L586.84 616.4 L592.58 616.4 L592.58 610.7 L598.33 610.7 L598.33 608 L604.08 608 L604.08 607.2 L609.82 607.2 L609.82 607.7 L615.57 607.7 L615.57 615.7 L621.31 615.7 L621.31 612.7 L627.06 612.7 L627.06 617.2 L632.81 617.2 L632.81 611.4 L638.55 611.4 L638.55 620.9 L644.3 620.9 L644.3 618.2 L650.04 618.2 L650.04 621.9 L655.79 621.9 L655.79 622.7 L661.54 622.7 L661.54 625.7 L667.28 625.7 L667.28 631.2 L673.03 631.2 L673.03 632.7 L678.77 632.7 L678.77 638.7 L684.52 638.7 L684.52 640.81 L690.27 640.81 L690.27 647.22 L696.01 647.22 L696.01 653.64 L701.76 653.64 L701.76 660.05 L707.5 660.05 L707.5 666.46 L713.25 666.46 L713.25 672.88 L719 672.88 L719 679.29 L724.74 679.29 L724.74 685.71 L730.49 685.71 L730.49 692.12 L736.23 692.12 L736.23 698.54 L741.98 698.54 L741.98 704.95 L747.73 704.95 L747.73 711.36 L753.47 711.36 L753.47 717.78 L759.22 717.78 L759.22 724.19 L764.96 724.19 L764.96 731.9 L770.71 731.9 L770.71 753.2" stroke="#000" stroke-width="1.9" fill="none" stroke-linejoin="miter" stroke-linecap="butt"/>
<line x1="684.52" y1="636.7" x2="765.26" y2="728.3" stroke="#0000ff" stroke-width="4.1" stroke-linecap="butt"/>
<line x1="121.05" y1="38.3" x2="121.05" y2="753.2" stroke="#000" stroke-width="2.6" stroke-linecap="square"/>
<line x1="345.5" y1="38.3" x2="345.5" y2="753.2" stroke="#000" stroke-width="3.2" stroke-linecap="butt"/>
<line x1="569.6" y1="38.3" x2="569.6" y2="753.2" stroke="#000" stroke-width="3.2" stroke-linecap="butt"/>
<line x1="793.8" y1="38.3" x2="793.8" y2="753.2" stroke="#000" stroke-width="2.6" stroke-linecap="square"/>
<line x1="121.05" y1="38.3" x2="793.8" y2="38.3" stroke="#000" stroke-width="2.6" stroke-linecap="square"/>
<line x1="121.05" y1="276.5" x2="793.8" y2="276.5" stroke="#000" stroke-width="3.2" stroke-linecap="butt"/>
<line x1="121.05" y1="515" x2="793.8" y2="515" stroke="#000" stroke-width="3.2" stroke-linecap="butt"/>
<line x1="121.05" y1="753.2" x2="793.8" y2="753.2" stroke="#000" stroke-width="2.6" stroke-linecap="square"/>
<g font-family="Liberation Serif, serif" text-rendering="geometricPrecision">
<text transform="translate(115.3 94.83) scale(1.0 1.013)" font-size="23" fill="#000" text-anchor="end">10000</text>
<text transform="translate(115.3 142.86) scale(1.0 1.013)" font-size="23" fill="#000" text-anchor="end">1000</text>
<text transform="translate(115.3 190.89) scale(1.0 1.013)" font-size="23" fill="#000" text-anchor="end">100</text>
<text transform="translate(115.3 238.92) scale(1.0 1.013)" font-size="23" fill="#000" text-anchor="end">10</text>
<text transform="translate(38.9 157.5) rotate(-90)" font-size="23.2" text-anchor="middle" fill="#000">Number</text>
<text transform="translate(115.3 333.03) scale(1.0 1.013)" font-size="23" fill="#000" text-anchor="end">10000</text>
<text transform="translate(115.3 381.06) scale(1.0 1.013)" font-size="23" fill="#000" text-anchor="end">1000</text>
<text transform="translate(115.3 429.09) scale(1.0 1.013)" font-size="23" fill="#000" text-anchor="end">100</text>
<text transform="translate(115.3 477.12) scale(1.0 1.013)" font-size="23" fill="#000" text-anchor="end">10</text>
<text transform="translate(38.9 395.85) rotate(-90)" font-size="23.2" text-anchor="middle" fill="#000">Number</text>
<text transform="translate(115.3 571.53) scale(1.0 1.013)" font-size="23" fill="#000" text-anchor="end">10000</text>
<text transform="translate(115.3 619.56) scale(1.0 1.013)" font-size="23" fill="#000" text-anchor="end">1000</text>
<text transform="translate(115.3 667.59) scale(1.0 1.013)" font-size="23" fill="#000" text-anchor="end">100</text>
<text transform="translate(115.3 715.62) scale(1.0 1.013)" font-size="23" fill="#000" text-anchor="end">10</text>
<text transform="translate(38.9 634.2) rotate(-90)" font-size="23.2" text-anchor="middle" fill="#000">Number</text>
<text transform="translate(121.25 782.5) scale(1.0 1.013)" font-size="23" fill="#000" text-anchor="middle">35</text>
<text transform="translate(178.71 782.5) scale(1.0 1.013)" font-size="23" fill="#000" text-anchor="middle">36</text>
<text transform="translate(236.17 782.5) scale(1.0 1.013)" font-size="23" fill="#000" text-anchor="middle">37</text>
<text transform="translate(293.63 782.5) scale(1.0 1.013)" font-size="23" fill="#000" text-anchor="middle">38</text>
<text x="232.65" y="807.5" font-size="23.5" text-anchor="middle" fill="#000">log L [erg s<tspan font-size="15" dy="-9.7">-1</tspan><tspan dy="9.7">]</tspan></text>
<text transform="translate(345.7 782.5) scale(1.0 1.013)" font-size="23" fill="#000" text-anchor="middle">35</text>
<text transform="translate(403.16 782.5) scale(1.0 1.013)" font-size="23" fill="#000" text-anchor="middle">36</text>
<text transform="translate(460.62 782.5) scale(1.0 1.013)" font-size="23" fill="#000" text-anchor="middle">37</text>
<text transform="translate(518.08 782.5) scale(1.0 1.013)" font-size="23" fill="#000" text-anchor="middle">38</text>
<text x="457.1" y="807.5" font-size="23.5" text-anchor="middle" fill="#000">log L [erg s<tspan font-size="15" dy="-9.7">-1</tspan><tspan dy="9.7">]</tspan></text>
<text transform="translate(569.8 782.5) scale(1.0 1.013)" font-size="23" fill="#000" text-anchor="middle">35</text>
<text transform="translate(627.26 782.5) scale(1.0 1.013)" font-size="23" fill="#000" text-anchor="middle">36</text>
<text transform="translate(684.72 782.5) scale(1.0 1.013)" font-size="23" fill="#000" text-anchor="middle">37</text>
<text transform="translate(742.18 782.5) scale(1.0 1.013)" font-size="23" fill="#000" text-anchor="middle">38</text>
<text x="681.2" y="807.5" font-size="23.5" text-anchor="middle" fill="#000">log L [erg s<tspan font-size="15" dy="-9.7">-1</tspan><tspan dy="9.7">]</tspan></text>
<text x="132.85" y="63" font-size="21.8" fill="#ff0000" text-anchor="start">β : -1.60</text>
<text x="238.55" y="63" font-size="22" fill="#ff0000" text-anchor="start">N</text>
<text x="254.55" y="68" font-size="13.2" fill="#ff0000" text-anchor="start">*,max</text>
<text x="293.35" y="63" font-size="22" fill="#ff0000" text-anchor="start">:</text>
<text x="304.25" y="63" font-size="22" fill="#ff0000" text-anchor="start">330</text>
<text x="293.55" y="93.5" font-size="23" fill="#0000ff" text-anchor="start">(a)</text>
<text x="357.3" y="63" font-size="21.8" fill="#ff0000" text-anchor="start">β : -2.00</text>
<text x="463" y="63" font-size="22" fill="#ff0000" text-anchor="start">N</text>
<text x="479" y="68" font-size="13.2" fill="#ff0000" text-anchor="start">*,max</text>
<text x="517.8" y="63" font-size="22" fill="#ff0000" text-anchor="start">:</text>
<text x="528.7" y="63" font-size="22" fill="#ff0000" text-anchor="start">330</text>
<text x="518" y="93.5" font-size="23" fill="#0000ff" text-anchor="start">(b)</text>
<text x="581.4" y="63" font-size="21.8" fill="#ff0000" text-anchor="start">β : -2.40</text>
<text x="687.1" y="63" font-size="22" fill="#ff0000" text-anchor="start">N</text>
<text x="703.1" y="68" font-size="13.2" fill="#ff0000" text-anchor="start">*,max</text>
<text x="741.9" y="63" font-size="22" fill="#ff0000" text-anchor="start">:</text>
<text x="752.8" y="63" font-size="22" fill="#ff0000" text-anchor="start">330</text>
<text x="742.1" y="93.5" font-size="23" fill="#0000ff" text-anchor="start">(c)</text>
<text x="132.85" y="301.2" font-size="21.8" fill="#ff0000" text-anchor="start">β : -1.60</text>
<text x="238.55" y="301.2" font-size="22" fill="#ff0000" text-anchor="start">N</text>
<text x="254.55" y="306.2" font-size="13.2" fill="#ff0000" text-anchor="start">*,max</text>
<text x="287.45" y="301.2" font-size="22" fill="#ff0000" text-anchor="start">:</text>
<text transform="translate(294.15 301.2) scale(0.98 1.0)" font-size="22" fill="#ff0000" text-anchor="start">1000</text>
<text x="293.55" y="331.7" font-size="23" fill="#0000ff" text-anchor="start">(d)</text>
<text transform="translate(128.65 425.8) scale(1.28 1.0)" font-size="26.5" fill="#ff00aa" text-anchor="start">α</text>
<text x="151.95" y="427.8" font-size="26.5" fill="#ff00aa" text-anchor="start">~</text>
<text x="172.7" y="425.8" font-size="26.5" fill="#ff00aa" text-anchor="start">-1.48</text>
<text x="357.3" y="301.2" font-size="21.8" fill="#ff0000" text-anchor="start">β : -2.00</text>
<text x="463" y="301.2" font-size="22" fill="#ff0000" text-anchor="start">N</text>
<text x="479" y="306.2" font-size="13.2" fill="#ff0000" text-anchor="start">*,max</text>
<text x="511.9" y="301.2" font-size="22" fill="#ff0000" text-anchor="start">:</text>
<text transform="translate(518.6 301.2) scale(0.98 1.0)" font-size="22" fill="#ff0000" text-anchor="start">1000</text>
<text x="518" y="331.7" font-size="23" fill="#0000ff" text-anchor="start">(e)</text>
<text transform="translate(353.1 425.8) scale(1.28 1.0)" font-size="26.5" fill="#ff00aa" text-anchor="start">α</text>
<text x="376.4" y="427.8" font-size="26.5" fill="#ff00aa" text-anchor="start">~</text>
<text x="397.15" y="425.8" font-size="26.5" fill="#ff00aa" text-anchor="start">-1.86</text>
<text x="581.4" y="301.2" font-size="21.8" fill="#ff0000" text-anchor="start">β : -2.40</text>
<text x="687.1" y="301.2" font-size="22" fill="#ff0000" text-anchor="start">N</text>
<text x="703.1" y="306.2" font-size="13.2" fill="#ff0000" text-anchor="start">*,max</text>
<text x="736" y="301.2" font-size="22" fill="#ff0000" text-anchor="start">:</text>
<text transform="translate(742.7 301.2) scale(0.98 1.0)" font-size="22" fill="#ff0000" text-anchor="start">1000</text>
<text x="742.1" y="331.7" font-size="23" fill="#0000ff" text-anchor="start">(f)</text>
<text transform="translate(577.4 425.8) scale(1.28 1.0)" font-size="26.5" fill="#ff00aa" text-anchor="start">α</text>
<text x="600.7" y="427.8" font-size="26.5" fill="#ff00aa" text-anchor="start">~</text>
<text x="621.45" y="425.8" font-size="26.5" fill="#ff00aa" text-anchor="start">-2.23</text>
<text x="132.85" y="539.7" font-size="21.8" fill="#ff0000" text-anchor="start">β : -1.60</text>
<text x="238.55" y="539.7" font-size="22" fill="#ff0000" text-anchor="start">N</text>
<text transform="translate(254.55 544.7) scale(0.89 1.0)" font-size="13.2" fill="#ff0000" text-anchor="start">*,max</text>
<text x="283.85" y="539.7" font-size="22" fill="#ff0000" text-anchor="start">:</text>
<text transform="translate(289.75 539.7) scale(0.915 1.0)" font-size="22" fill="#ff0000" text-anchor="start">10000</text>
<text x="293.55" y="570.2" font-size="23" fill="#0000ff" text-anchor="start">(g)</text>
<text transform="translate(128.65 663.7) scale(1.28 1.0)" font-size="26.5" fill="#ff00aa" text-anchor="start">α</text>
<text x="151.95" y="665.7" font-size="26.5" fill="#ff00aa" text-anchor="start">~</text>
<text x="172.7" y="663.7" font-size="26.5" fill="#ff00aa" text-anchor="start">-1.55</text>
<text x="357.3" y="539.7" font-size="21.8" fill="#ff0000" text-anchor="start">β : -2.00</text>
<text x="463" y="539.7" font-size="22" fill="#ff0000" text-anchor="start">N</text>
<text transform="translate(479 544.7) scale(0.89 1.0)" font-size="13.2" fill="#ff0000" text-anchor="start">*,max</text>
<text x="508.3" y="539.7" font-size="22" fill="#ff0000" text-anchor="start">:</text>
<text transform="translate(514.2 539.7) scale(0.915 1.0)" font-size="22" fill="#ff0000" text-anchor="start">10000</text>
<text x="518" y="570.2" font-size="23" fill="#0000ff" text-anchor="start">(h)</text>
<text transform="translate(353.1 663.7) scale(1.28 1.0)" font-size="26.5" fill="#ff00aa" text-anchor="start">α</text>
<text x="376.4" y="665.7" font-size="26.5" fill="#ff00aa" text-anchor="start">~</text>
<text x="397.15" y="663.7" font-size="26.5" fill="#ff00aa" text-anchor="start">-1.94</text>
<text x="581.4" y="539.7" font-size="21.8" fill="#ff0000" text-anchor="start">β : -2.40</text>
<text x="687.1" y="539.7" font-size="22" fill="#ff0000" text-anchor="start">N</text>
<text transform="translate(703.1 544.7) scale(0.89 1.0)" font-size="13.2" fill="#ff0000" text-anchor="start">*,max</text>
<text x="732.4" y="539.7" font-size="22" fill="#ff0000" text-anchor="start">:</text>
<text transform="translate(738.3 539.7) scale(0.915 1.0)" font-size="22" fill="#ff0000" text-anchor="start">10000</text>
<text x="742.1" y="570.2" font-size="23" fill="#0000ff" text-anchor="start">(i)</text>
<text transform="translate(577.4 663.7) scale(1.28 1.0)" font-size="26.5" fill="#ff00aa" text-anchor="start">α</text>
<text x="600.7" y="665.7" font-size="26.5" fill="#ff00aa" text-anchor="start">~</text>
<text x="621.45" y="663.7" font-size="26.5" fill="#ff00aa" text-anchor="start">-2.36</text>
</g>
</svg>
</body></html>
